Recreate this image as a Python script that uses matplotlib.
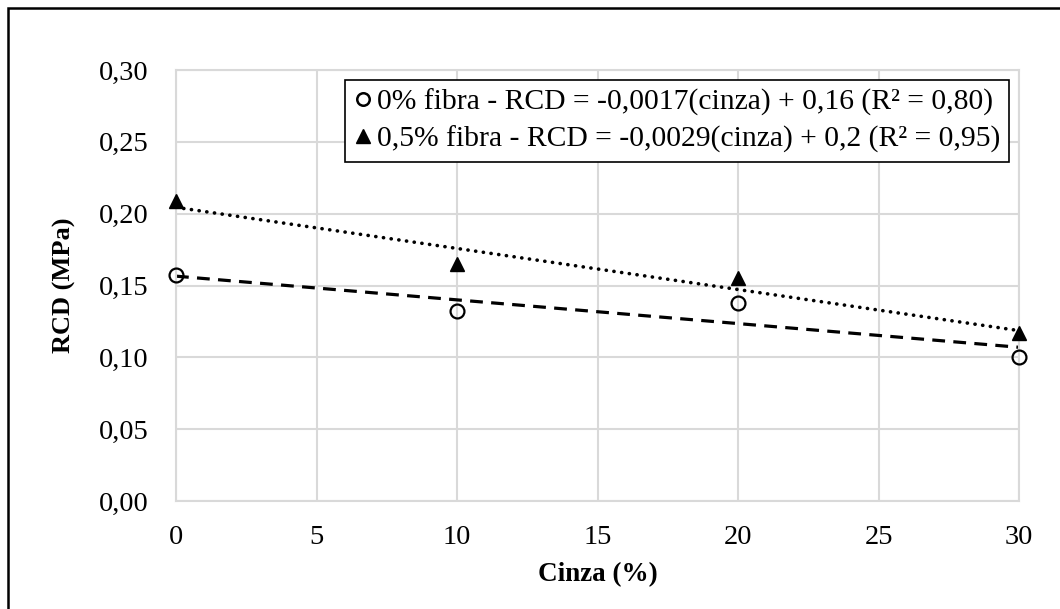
import numpy as np
import matplotlib
matplotlib.use("Agg")
import matplotlib.pyplot as plt
from matplotlib.lines import Line2D
from matplotlib.patches import Rectangle
from matplotlib.ticker import FuncFormatter

plt.rcParams['font.family'] = ['Liberation Serif', 'DejaVu Serif']

cinza = [0, 10, 20, 30]
rcd_0 = [0.157, 0.132, 0.138, 0.100]
rcd_05 = [0.209, 0.165, 0.155, 0.117]
label_0 = '0% fibra - RCD = -0,0017(cinza) + 0,16 (R² = 0,80)'
label_05 = '0,5% fibra - RCD = -0,0029(cinza) + 0,2 (R² = 0,95)'

fig = plt.figure(figsize=(10.6, 6.09), dpi=100)
ax = fig.add_axes([176 / 1060, 108 / 609, 843 / 1060, 431 / 609])

grid_c = '#d9d9d9'
ax.grid(True, color=grid_c, linewidth=1.5, zorder=0)
for s in ax.spines.values():
    s.set_color(grid_c)
    s.set_linewidth(1.5)
ax.set_axisbelow(True)

# linear trend lines
xs = np.array([0, 30])
p0 = np.polyfit(cinza, rcd_0, 1)
p05 = np.polyfit(cinza, rcd_05, 1)
ax.plot(xs, np.polyval(p0, xs), color='black', lw=2.3, linestyle=(0, (4, 2.6)), zorder=2)
ax.plot(xs, np.polyval(p05, xs), color='black', lw=2.6, linestyle=(0, (0.05, 2.1)),
        dash_capstyle='round', zorder=2)

ax.plot(cinza, rcd_0, 'o', markerfacecolor='none', markeredgecolor='black',
        markersize=10, markeredgewidth=1.6, clip_on=False, zorder=3)
ax.plot(cinza, rcd_05, '^', color='black', markersize=10.5, clip_on=False, zorder=3)

ax.set_xlim(0, 30)
ax.set_ylim(0, 0.30)
ax.set_xticks(range(0, 31, 5))
ax.set_yticks(np.arange(0, 0.301, 0.05))
ax.yaxis.set_major_formatter(FuncFormatter(lambda v, p: f'{v:.2f}'.replace('.', ',')))
ax.tick_params(length=0, labelsize=20.5)
ax.tick_params(axis='y', pad=20)
ax.tick_params(axis='x', pad=17)

ax.set_xlabel('Cinza (%)', fontsize=19.5, fontweight='bold', labelpad=9)
ax.set_ylabel('RCD (MPa)', fontsize=19, fontweight='bold', labelpad=16)

handles = [
    Line2D([], [], linestyle='none', marker='o', markerfacecolor='none',
           markeredgecolor='black', markersize=9, markeredgewidth=1.8),
    Line2D([], [], linestyle='none', marker='^', color='black', markersize=10),
]
leg = ax.legend(handles, [label_0, label_05], loc='upper left',
                bbox_to_anchor=(345 / 1060, 1 - 80 / 609), bbox_transform=fig.transFigure,
                fontsize=21.3, frameon=True, fancybox=False, edgecolor='black',
                framealpha=1, handlelength=0.6, handletextpad=0.18,
                borderpad=0.3, labelspacing=0.32, borderaxespad=0)
leg.get_frame().set_linewidth(1.2)

# outer chart border
fig.add_artist(Rectangle((8 / 1060, -0.1), 1.2, 1.1 - 8 / 609, transform=fig.transFigure,
                         fill=False, edgecolor='black', linewidth=1.8, clip_on=False))

fig.savefig('out.png', dpi=100)
